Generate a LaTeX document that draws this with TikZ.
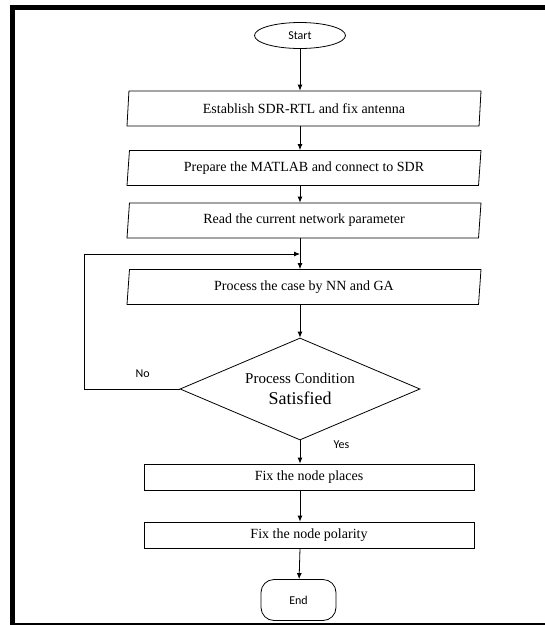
\documentclass[tikz,border=0pt]{standalone}
\usepackage{fontspec}
\setmainfont{Liberation Serif}
\newfontfamily\calfont{Carlito}
\usetikzlibrary{shapes,arrows.meta,positioning}

\begin{document}
\begin{tikzpicture}[x=1pt,y=-1pt,>={Latex[length=6pt,width=5pt]},
        io/.style={trapezium,trapezium left angle=79,trapezium right angle=101,trapezium stretches body=true,draw,line width=0.8pt,inner sep=0pt,minimum width=354pt,minimum height=35pt,font=\fontsize{14}{16}\selectfont},
        proc/.style={rectangle,draw,line width=0.8pt,inner sep=0pt,minimum width=330pt,minimum height=26pt,font=\fontsize{14}{16}\selectfont},
        term/.style={draw,line width=0.8pt,inner sep=0pt,font=\calfont\fontsize{12}{14}\selectfont},
        lbl/.style={font=\calfont\fontsize{12}{14}\selectfont},
        arr/.style={line width=0.8pt,->}]
        \useasboundingbox (0,0) rectangle (545,625);
        \draw[line width=5pt] (545,7) -- (12.5,7) -- (12.5,625);
        \draw[line width=2pt] (10,624) -- (545,624);

        \node (A) at (300,35.5) [term,ellipse,minimum width=91pt,minimum height=26pt] {Start};
        \node (B) at (304,108.5) [io] {Establish SDR-RTL and fix antenna};
        \node (C) at (304,168) [io] {Prepare the MATLAB and connect to SDR};
        \node (D) at (304,220.5) [io] {Read the current network parameter};
        \node (E) at (304,287) [io] {Process the case by NN and GA};
        \node (F) at (300,389) [diamond,draw,line width=0.8pt,aspect=2.35,inner sep=0pt,minimum width=240pt,minimum height=102pt,align=center]
            {{\fontsize{15}{18}\selectfont Process Condition}\\[7pt]{\fontsize{18}{20}\selectfont Satisfied}};
        \node (G) at (309,477) [proc] {Fix the node places};
        \node (H) at (309,535) [proc] {Fix the node polarity};
        \node (I) at (298.5,600) [term,rounded corners=13pt,minimum width=75pt,minimum height=41pt] {End};
        \coordinate (J) at (300,254);

        \draw[arr] (A) -- (B.north -| A);
        \draw[arr] (B.south -| A) -- (C.north -| A);
        \draw[arr] (C.south -| A) -- (D.north -| A);
        \draw[arr] (D.south -| A) -- (E.north -| A);
        \draw[arr] (E.south -| F) -- (F);
        \draw[arr] (F) -- (G.north -| F) node[pos=0.2,right=30pt,lbl] {Yes};
        \draw[arr] (G.south -| F) -- (H.north -| F);
        \draw[arr] (H.south -| F) -- (I);
        \draw[arr] (F.west) -- node[pos=0.39,above=8pt,lbl] {No} ++(-95,0) |- (J);
    \end{tikzpicture}
\end{document}
